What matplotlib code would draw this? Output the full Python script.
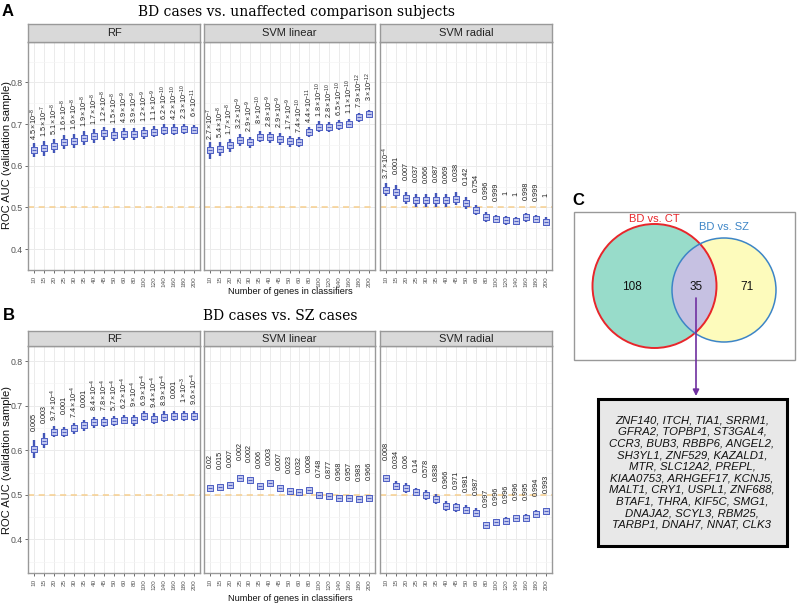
import numpy as np
import matplotlib.pyplot as plt
from matplotlib.patches import Circle, Rectangle
from matplotlib.ticker import MultipleLocator

plt.rcParams['font.family'] = ['Liberation Sans', 'DejaVu Sans']
plt.rcParams['mathtext.fontset'] = 'custom'
plt.rcParams['mathtext.rm'] = 'Liberation Sans'
plt.rcParams['mathtext.it'] = 'Liberation Sans:italic'

n_genes = ["10", "15", "20", "25", "30", "35", "40", "45", "50", "60",
           "80", "100", "120", "140", "160", "180", "200"]
methods = ["RF", "SVM linear", "SVM radial"]

# panel A: BD vs unaffected comparison subjects
a_rf_auc = [0.637, 0.642, 0.648, 0.658, 0.659, 0.666, 0.672, 0.678, 0.675,
            0.676, 0.676, 0.679, 0.682, 0.687, 0.687, 0.689, 0.687]
a_rf_err = [0.017, 0.018, 0.017, 0.017, 0.017, 0.017, 0.017, 0.016, 0.016,
            0.015, 0.014, 0.014, 0.013, 0.013, 0.013, 0.012, 0.010]
a_rf_p = ["4.5e-8", "1.5e-7", "5.1e-8", "1.6e-8", "1.6e-8", "1.9e-8", "1.7e-8",
          "1.2e-8", "1.5e-8", "4.9e-9", "3.9e-9", "1.2e-9", "1.1e-9",
          "6.2e-10", "4.2e-10", "2.3e-10", "6e-11"]

a_lin_auc = [0.637, 0.640, 0.649, 0.662, 0.656, 0.670, 0.668, 0.664, 0.659,
             0.657, 0.680, 0.694, 0.693, 0.697, 0.701, 0.716, 0.725]
a_lin_err = [0.020, 0.017, 0.016, 0.015, 0.014, 0.014, 0.014, 0.014, 0.013,
             0.012, 0.012, 0.013, 0.012, 0.012, 0.011, 0.010, 0.008]
a_lin_p = ["2.7e-7", "5.4e-8", "1.7e-8", "3.2e-9", "2.9e-9", "8e-10", "2.8e-9",
           "2.9e-9", "1.7e-9", "7.4e-10", "4.4e-11", "1.8e-10", "2.8e-10",
           "6.5e-10", "1.1e-10", "7.9e-12", "3e-12"]

a_rad_auc = [0.543, 0.537, 0.523, 0.517, 0.517, 0.517, 0.517, 0.521, 0.511,
             0.495, 0.477, 0.473, 0.469, 0.467, 0.476, 0.473, 0.466]
a_rad_err = [0.016, 0.016, 0.015, 0.015, 0.016, 0.017, 0.016, 0.016, 0.015,
             0.012, 0.011, 0.010, 0.010, 0.010, 0.010, 0.010, 0.010]
a_rad_p = ["3.7e-4", "0.001", "0.007", "0.037", "0.066", "0.087", "0.069",
           "0.038", "0.142", "0.754", "0.996", "0.999", "1", "1", "0.998",
           "0.999", "1"]

# panel B: BD vs SZ cases
b_rf_auc = [0.603, 0.621, 0.642, 0.641, 0.649, 0.656, 0.663, 0.663, 0.665,
            0.669, 0.667, 0.676, 0.671, 0.675, 0.677, 0.676, 0.677]
b_rf_err = [0.020, 0.017, 0.012, 0.012, 0.012, 0.012, 0.012, 0.011, 0.011,
            0.011, 0.012, 0.011, 0.012, 0.012, 0.012, 0.011, 0.011]
b_rf_p = ["0.005", "0.003", "9.7e-4", "0.001", "7.4e-4", "0.001", "8.4e-4",
          "7.8e-4", "5.7e-4", "6.2e-4", "9e-4", "6.9e-4", "9.4e-4", "8.9e-4",
          "0.001", "1e-3", "9.6e-4"]

b_lin_auc = [0.516, 0.517, 0.521, 0.538, 0.533, 0.519, 0.526, 0.516, 0.509,
             0.507, 0.510, 0.499, 0.497, 0.493, 0.493, 0.490, 0.493]
b_lin_err = [0.004] * 17
b_lin_p = ["0.02", "0.015", "0.007", "0.002", "0.002", "0.006", "0.003",
           "0.007", "0.023", "0.032", "0.008", "0.748", "0.877", "0.968",
           "0.957", "0.983", "0.966"]

b_rad_auc = [0.537, 0.520, 0.516, 0.507, 0.499, 0.490, 0.475, 0.472, 0.467,
             0.460, 0.432, 0.438, 0.442, 0.448, 0.449, 0.458, 0.463]
b_rad_err = [0.008, 0.010, 0.011, 0.009, 0.011, 0.011, 0.011, 0.010, 0.010,
             0.010, 0.008, 0.008, 0.008, 0.007, 0.007, 0.007, 0.007]
b_rad_p = ["0.008", "0.034", "0.06", "0.14", "0.578", "0.838", "0.966",
           "0.971", "0.981", "0.987", "0.997", "0.996", "0.996", "0.996",
           "0.995", "0.994", "0.993"]

venn_counts = [108, 35, 71]
venn_names = ["BD vs. CT", "BD vs. SZ"]
shared_genes = ["ZNF140", "ITCH", "TIA1", "SRRM1", "GFRA2", "TOPBP1", "ST3GAL4",
                "CCR3", "BUB3", "RBBP6", "ANGEL2", "SH3YL1", "ZNF529", "KAZALD1",
                "MTR", "SLC12A2", "PREPL", "KIAA0753", "ARHGEF17", "KCNJ5",
                "MALT1", "CRY1", "USPL1", "ZNF688", "BTAF1", "THRA", "KIF5C",
                "SMG1", "DNAJA2", "SCYL3", "RBM25", "TARBP1", "DNAH7", "NNAT",
                "CLK3"]
genes_per_line = [4, 3, 4, 3, 3, 3, 4, 4, 3, 4]

W, H = 800, 603
fig = plt.figure(figsize=(8, 6.03), dpi=100)


def box(x0, y0, x1, y1):
    # pixel box (top-left origin) -> figure fraction rect
    return [x0 / W, 1 - y1 / H, (x1 - x0) / W, (y1 - y0) / H]


def ptext(p):
    if "e" in p:
        m, e = p.split("e")
        return r"$%s\times10^{%s}$" % (m, e)
    return p


def draw_panel(ax, auc, err, plab, ylim, left):
    x = np.arange(len(n_genes))
    auc = np.array(auc)
    err = np.array(err)
    ax.set_xlim(-0.6, len(n_genes) - 0.4)
    ax.set_ylim(*ylim)
    ax.yaxis.set_major_locator(MultipleLocator(0.1))
    ax.yaxis.set_minor_locator(MultipleLocator(0.05))
    ax.set_xticks(x)
    ax.set_xticklabels(n_genes, rotation=90, fontsize=4.6, color='#555555')
    ax.grid(True, which='major', color='#ebebeb', lw=0.7)
    ax.grid(True, which='minor', axis='y', color='#f4f4f4', lw=0.5)
    ax.set_axisbelow(True)
    ax.tick_params(which='minor', length=0)
    ax.tick_params(which='major', length=2.2, width=0.6, color='#555555',
                   labelsize=6.3, labelcolor='#555555', pad=1.5)
    ax.tick_params(axis='x', labelsize=4.6, pad=2)
    if not left:
        ax.tick_params(axis='y', labelleft=False, length=0)
    for s in ax.spines.values():
        s.set_color('#999999')
        s.set_linewidth(1.0)
    ax.axhline(0.5, color='#f7cf8e', ls=(0, (4, 3)), lw=1.1, zorder=1)
    ax.vlines(x, auc - err, auc + err, color='#4356b8', lw=1.7, zorder=3)
    ax.scatter(x, auc, marker='s', s=18, facecolor='#c0c6ee',
               edgecolor='#4d5ec2', lw=0.7, zorder=4)
    ax.scatter(x, auc, marker='_', s=12, color='#4d5ec2', lw=0.7, zorder=5)
    for xi, yi, lab in zip(x, auc, plab):
        ax.annotate(ptext(lab), (xi, yi), xytext=(0, 27),
                    textcoords='offset pixels', rotation=90, ha='center',
                    va='center', fontsize=5.2, color='#222222')


def draw_strip(rect, label):
    sa = fig.add_axes(rect)
    sa.set_facecolor('#d9d9d9')
    sa.set_xticks([])
    sa.set_yticks([])
    for s in sa.spines.values():
        s.set_color('#999999')
        s.set_linewidth(1.0)
    sa.text(0.5, 0.5, label, ha='center', va='center', fontsize=8,
            color='#222222', transform=sa.transAxes)


cols = [(28, 200), (204, 375), (380, 552)]
rows = [
    dict(strip=(24, 42), plot=(42, 270), ylim=(0.350, 0.897),
         data=[(a_rf_auc, a_rf_err, a_rf_p), (a_lin_auc, a_lin_err, a_lin_p),
               (a_rad_auc, a_rad_err, a_rad_p)]),
    dict(strip=(331, 346), plot=(346, 573), ylim=(0.3245, 0.834),
         data=[(b_rf_auc, b_rf_err, b_rf_p), (b_lin_auc, b_lin_err, b_lin_p),
               (b_rad_auc, b_rad_err, b_rad_p)]),
]

for r in rows:
    for j, (x0, x1) in enumerate(cols):
        ax = fig.add_axes(box(x0, r['plot'][0], x1, r['plot'][1]))
        auc, err, plab = r['data'][j]
        draw_panel(ax, auc, err, plab, r['ylim'], j == 0)
        draw_strip(box(x0, r['strip'][0], x1, r['strip'][1]), methods[j])

# titles and axis labels
fig.text(8 / W, 1 - 11 / H, "A", fontsize=12, fontweight='bold', ha='center', va='center')
fig.text(9 / W, 1 - 316 / H, "B", fontsize=12, fontweight='bold', ha='center', va='center')
fig.text(578 / W, 1 - 201 / H, "C", fontsize=12, fontweight='bold', ha='center', va='center')
fig.text(297 / W, 1 - 12 / H, "BD cases vs. unaffected comparison subjects",
         family='DejaVu Serif', fontsize=10, ha='center', va='center')
fig.text(203 / W, 1 - 316 / H, "BD cases vs. SZ cases",
         family='DejaVu Serif', fontsize=10, ha='left', va='center')
for yl, xl in [(155, 292), (460, 598.5)]:
    fig.text(7 / W, 1 - yl / H, "ROC AUC (validation sample)", rotation=90,
             fontsize=8, ha='center', va='center', color='#111111')
    fig.text(290 / W, 1 - xl / H, "Number of genes in classifiers",
             fontsize=6.7, ha='center', va='center', color='#111111')

# panel C overlay in pixel coordinates
ov = fig.add_axes([0, 0, 1, 1])
ov.set_xlim(0, W)
ov.set_ylim(H, 0)
ov.axis('off')

ov.add_patch(Rectangle((574, 212), 221, 148, fill=False, ec='#999999', lw=1.0))
red = Circle((654.5, 286), 62, fc='#98dcca', ec='none')
blue = Circle((724, 290), 52, fc='#fdfbbc', ec='none')
ov.add_patch(red)
ov.add_patch(blue)
inter = Circle((724, 290), 52, fc='#c6c1e2', ec='none')
ov.add_patch(inter)
inter.set_clip_path(red)
ov.add_patch(Circle((654.5, 286), 62, fill=False, ec='#e8262b', lw=1.4))
ov.add_patch(Circle((724, 290), 52, fill=False, ec='#3d85c6', lw=1.1))
ov.text(654, 219, venn_names[0], color='#e8262b', fontsize=8, ha='center', va='center')
ov.text(724, 227, venn_names[1], color='#3d85c6', fontsize=8, ha='center', va='center')
for cx, n in zip([632, 696, 747], venn_counts):
    ov.text(cx, 287, str(n), fontsize=8.5, ha='center', va='center', color='#111111')

ov.annotate("", xy=(696, 396), xytext=(696, 298),
            arrowprops=dict(arrowstyle='-|>', color='#7030a0', lw=1.2,
                            mutation_scale=9, shrinkA=0, shrinkB=0))

ov.add_patch(Rectangle((598, 399), 189, 147, fc='#e8e8e8', ec='black', lw=2.2))
lines = []
k = 0
for cnt in genes_per_line:
    chunk = shared_genes[k:k + cnt]
    k += cnt
    lines.append(", ".join(chunk) + ("," if k < len(shared_genes) else ""))
ov.text(692, 472.5, "\n".join(lines), fontsize=8.2, style='italic',
        ha='center', va='center', linespacing=1.2, color='#111111')

fig.savefig("out.png", dpi=100)
